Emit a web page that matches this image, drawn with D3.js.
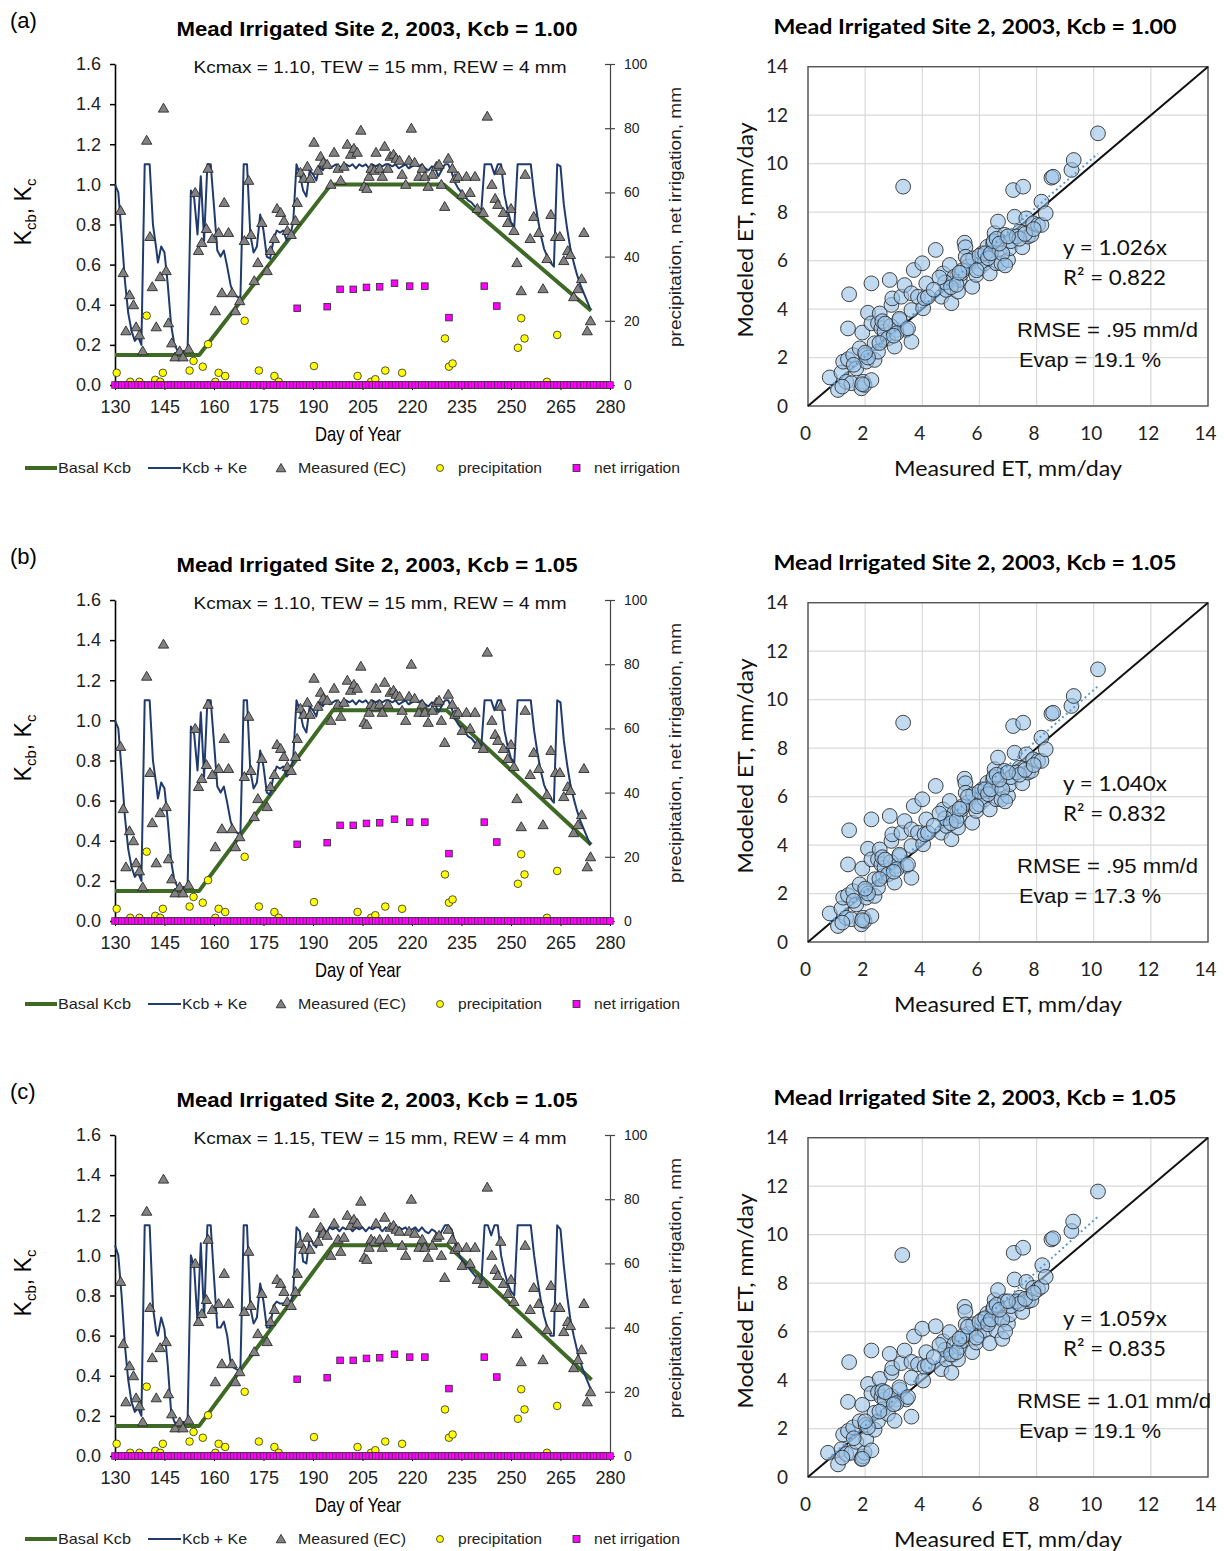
<!DOCTYPE html>
<html><head><meta charset="utf-8">
<script src="https://cdn.jsdelivr.net/npm/d3@7"></script>
<style>body{margin:0;background:#fff}svg{display:block}</style>
</head><body>
<svg id="c" width="1224" height="1551"></svg>
<script>
// ---------------- DATA ----------------
const panelLabels = ['(a)', '(b)', '(c)'];
const kcbValues = ['1.00', '1.05', '1.05'];
const kcmaxValues = ['1.10', '1.10', '1.15'];
const slopes = ['1.026', '1.040', '1.059'];
const r2Values = ['0.822', '0.832', '0.835'];
const rmseValues = ['.95', '.95', '1.01'];
const evapValues = ['19.1', '17.3', '19.1'];

const doyTicks = [130, 145, 160, 175, 190, 205, 220, 235, 250, 265, 280];
const kcTicks = [0, 0.2, 0.4, 0.6, 0.8, 1.0, 1.2, 1.4, 1.6];
const mmTicks = [0, 20, 40, 60, 80, 100];
const etTicks = [0, 2, 4, 6, 8, 10, 12, 14];

// Basal Kcb (day, Kcb)
const basalA = [[130,0.15],[155.5,0.15],[195.5,1.00],[229.5,1.00],[274.3,0.37]];
const basalB = [[130,0.15],[155.5,0.15],[196,1.05],[230.5,1.05],[274.3,0.38]];
const basalC = [[130,0.15],[155.5,0.15],[196,1.05],[230.8,1.05],[274.4,0.38]];

// Kcb + Ke (day, Kc)
const kcA = [[130,1.00],[131,0.96],[132,0.75],[133,0.52],[134,0.36],[135,0.27],[136,0.22],[137,0.24],[138,0.20],[139,1.10],[140.5,1.10],[141.5,0.80],[142.5,0.68],[143,0.61],[144,0.69],[145,0.66],[146,0.50],[147,0.30],[148,0.20],[149,0.17],[150,0.17],[151,0.17],[152,0.17],[153,0.97],[154,0.93],[155,0.75],[156,1.04],[157,0.72],[158,1.10],[159,1.10],[160,0.89],[161,0.67],[162,0.64],[163,0.67],[164,0.59],[165,0.50],[166,0.45],[167,0.44],[168,0.43],[169,1.10],[170,1.10],[171,0.75],[172,0.66],[173,0.69],[174,0.85],[175,0.77],[176,0.64],[177,0.63],[178,0.72],[179,0.77],[180,0.76],[181,0.77],[182,0.72],[183,0.74],[184,0.81],[185,1.10],[186,1.05],[187,0.97],[188,0.94],[189,1.07],[190,1.05],[191,1.02],[192,1.09],[193,1.07],[194,1.10],[195,1.08],[196,1.09],[197,1.10],[198,1.09],[199,1.08],[200,1.10],[201,1.09],[202,1.10],[203,1.08],[204,1.10],[205,1.09],[206,1.10],[207,1.08],[208,1.10],[209,1.09],[210,1.10],[211,1.09],[212,1.10],[213,1.10],[214,1.09],[215,1.10],[216,1.08],[217,1.09],[218,1.10],[219,1.08],[220,1.09],[221,1.10],[222,1.09],[223,1.10],[224,1.08],[225,1.07],[226,1.09],[227,1.08],[228,1.04],[229,1.07],[230,1.10],[231,1.10],[232,1.06],[233,1.01],[234,0.98],[235,0.96],[236,0.94],[237,0.92],[238,0.91],[239,0.89],[240,0.88],[241,0.87],[242,1.10],[243,1.10],[244,1.10],[245,1.05],[246,1.10],[247,1.10],[248,0.95],[249,0.87],[250,0.81],[251,0.79],[252,1.10],[253,1.10],[254,1.10],[255,1.10],[256,1.10],[257,0.95],[258,0.84],[259,0.75],[260,0.68],[261,0.64],[262,0.61],[263,0.59],[264,1.10],[265,1.09],[266,0.90],[267,0.78],[268,0.68],[269,0.61],[270,0.55],[271,0.50],[272,0.46],[273,0.42],[274,0.38]];
const kcB = kcA;
const kcC = [[130,1.05],[131,1.00],[132,0.80],[133,0.55],[134,0.38],[135,0.27],[136,0.22],[137,0.24],[138,0.20],[139,1.15],[140.5,1.15],[141.5,0.74],[142.5,0.62],[143,0.60],[144,0.69],[145,0.63],[146,0.45],[147,0.22],[148,0.17],[149,0.16],[150,0.17],[151,0.17],[152,0.17],[153,1.00],[154,0.94],[155,0.67],[156,1.06],[157,0.69],[158,1.15],[159,1.15],[160,0.89],[161,0.64],[162,0.64],[163,0.67],[164,0.60],[165,0.47],[166,0.44],[167,0.43],[168,0.43],[169,1.15],[170,1.15],[171,0.74],[172,0.66],[173,0.69],[174,0.86],[175,0.77],[176,0.64],[177,0.64],[178,0.75],[179,0.77],[180,0.76],[181,0.76],[182,0.77],[183,0.75],[184,0.81],[185,1.14],[186,1.12],[187,0.97],[188,0.96],[189,1.09],[190,1.06],[191,1.04],[192,1.12],[193,1.14],[194,1.11],[195,1.14],[196,1.13],[197,1.14],[198,1.12],[199,1.14],[200,1.13],[201,1.14],[202,1.12],[203,1.14],[204,1.13],[205,1.14],[206,1.12],[207,1.14],[208,1.13],[209,1.14],[210,1.14],[211,1.12],[212,1.14],[213,1.13],[214,1.14],[215,1.12],[216,1.14],[217,1.13],[218,1.14],[219,1.12],[220,1.13],[221,1.14],[222,1.12],[223,1.14],[224,1.12],[225,1.11],[226,1.13],[227,1.12],[228,1.09],[229,1.12],[230,1.15],[231,1.15],[232,1.13],[233,1.07],[234,1.01],[235,0.98],[236,0.96],[237,0.94],[238,0.92],[239,0.90],[240,0.88],[241,0.86],[242,1.15],[243,1.15],[244,1.10],[245,1.15],[246,1.15],[247,1.00],[248,0.92],[249,0.86],[250,0.82],[251,0.80],[252,1.15],[253,1.15],[254,1.15],[255,1.15],[256,1.15],[257,1.00],[258,0.88],[259,0.78],[260,0.70],[261,0.64],[262,0.60],[263,0.60],[264,1.15],[265,1.13],[266,0.95],[267,0.80],[268,0.68],[269,0.60],[270,0.53],[271,0.47],[272,0.42],[273,0.38],[274,0.34]];

// Measured Kc (EC) (day, Kc)
const measuredKc = [[131.7,0.87],[132.5,0.56],[133.3,0.27],[134.4,0.45],[135.6,0.40],[136.4,0.29],[137.4,0.25],[138.4,0.17],[139.6,1.22],[140.6,0.74],[141.3,0.49],[142.5,0.29],[143.7,0.54],[144.7,1.38],[145.5,0.57],[146.2,0.31],[147.2,0.21],[148.2,0.14],[149.6,0.17],[150.6,0.14],[152.3,0.18],[154.3,0.96],[155.3,0.67],[156.3,0.71],[157.7,0.78],[158.2,1.08],[159.5,0.73],[160.4,0.37],[161.4,0.76],[162.4,0.46],[163.1,0.91],[164.4,0.76],[165.5,0.46],[166.5,0.37],[167.8,0.42],[169.2,0.72],[170.5,1.02],[171.2,0.75],[172.2,0.52],[173.3,0.61],[174.5,0.81],[176.1,0.57],[177.1,0.67],[178.3,0.73],[179.1,0.88],[180.2,0.86],[181.2,0.82],[182.2,0.77],[183.4,0.75],[184.7,0.82],[185.2,0.91],[186.2,1.06],[187.2,1.03],[188.3,1.09],[189.1,1.03],[190.3,1.21],[191.5,1.07],[192.3,1.14],[193.1,1.11],[194.3,1.10],[195.4,1.00],[196.4,1.16],[197.6,1.08],[198.4,1.02],[199.4,1.09],[200.4,1.20],[201.4,1.15],[202.4,1.18],[203.4,1.16],[204.5,1.27],[205.5,0.99],[206.3,0.98],[207,1.04],[207.6,1.08],[208.6,1.07],[209.1,1.16],[210.2,1.08],[211,1.04],[211.7,1.19],[212.7,1.08],[213.4,1.14],[214.4,1.15],[215.2,1.13],[216.2,1.12],[217,1.05],[218.1,1.00],[219.1,1.12],[219.8,1.28],[220.8,1.11],[222.1,1.04],[223.1,1.08],[223.9,1.04],[224.9,0.99],[226.2,1.05],[227.4,1.09],[228.2,1.10],[228.9,1.00],[229.9,0.89],[231,1.13],[232.2,1.08],[233,1.03],[234,1.04],[235.2,0.95],[236.5,1.04],[237.6,0.96],[239.1,1.04],[239.8,0.88],[241.6,0.86],[242.8,1.34],[244.2,1.00],[245.2,0.93],[246,0.90],[246.9,1.07],[247.7,0.86],[249,0.81],[250,0.88],[250.9,0.77],[251.8,0.61],[253.1,0.47],[254.3,1.05],[255.8,0.73],[256.9,0.84],[258.4,0.76],[259.7,0.48],[260.9,0.63],[262.1,0.85],[263.5,0.74],[264.8,0.74],[266,0.62],[267.2,0.67],[268,0.65],[269,0.44],[270.3,0.48],[271.4,0.53],[272.1,0.76],[273.1,0.27],[274.1,0.32]];

// Precipitation (day, mm)
const precip = [[130.5,3.8],[134.6,1.0],[137.4,1.0],[139.6,21.6],[142.2,1.6],[143.7,1.0],[144.5,3.8],[152.6,4.5],[153.8,7.5],[156.6,5.7],[158.2,12.7],[160.4,1.0],[161.4,3.8],[163.4,2.8],[169.3,20.0],[173.6,4.5],[178.3,2.8],[179.6,1.0],[190.3,5.9],[203.5,2.8],[207.6,1.0],[208.9,1.8],[211.9,4.5],[217,3.8],[230,14.5],[231.2,5.7],[232.3,6.7],[252.1,11.6],[253.1,20.8],[254.1,14.5],[260.9,1.0],[264,15.6]];

// Net irrigation (day, mm); all other days are 0
const irrigation = [[185.2,23.9],[194.3,24.4],[198.2,29.8],[202.2,29.8],[206.2,30.4],[210.2,30.6],[214.7,31.7],[219.3,30.8],[223.9,30.8],[231.2,21.0],[241.9,30.8],[245.7,24.6]];
const irrigationDays = d3.range(130, 281);

// Measured vs modeled ET (mm/day)
const etA = [[0.76,1.18],[1.05,0.66],[1.17,1.38],[1.23,1.83],[1.34,1.00],[1.40,1.93],[1.40,3.20],[1.44,4.61],[1.52,0.94],[1.58,2.10],[1.69,1.55],[1.81,2.38],[1.87,0.73],[1.93,1.00],[1.90,3.03],[1.98,0.87],[2.02,2.10],[2.04,1.83],[2.22,1.07],[2.22,5.06],[2.10,3.85],[2.22,3.41],[2.33,1.90],[2.33,2.59],[2.45,2.24],[2.45,3.41],[2.51,3.82],[2.57,3.20],[2.63,2.72],[2.68,3.07],[2.80,2.79],[2.86,5.20],[2.92,4.17],[2.95,4.44],[3.03,2.45],[3.09,3.14],[3.21,3.55],[3.27,4.51],[3.33,9.05],[3.38,4.99],[3.44,3.14],[3.62,2.65],[3.62,3.96],[3.62,4.65],[3.70,5.61],[3.85,4.51],[4.00,5.89],[4.03,4.03],[4.08,4.44],[4.14,5.06],[4.47,6.44],[4.67,4.51],[4.73,5.47],[4.84,4.79],[4.96,5.82],[5.02,4.24],[5.08,5.06],[5.13,5.34],[5.25,4.72],[5.31,5.20],[5.37,5.47],[5.48,6.74],[5.51,6.55],[5.52,6.16],[5.60,5.75],[5.75,4.92],[5.78,6.09],[5.89,5.41],[5.99,5.68],[6.10,6.30],[6.18,5.89],[6.28,6.57],[6.34,6.23],[6.36,5.47],[6.48,6.71],[6.53,7.13],[6.59,5.89],[6.65,7.61],[6.71,6.44],[6.77,5.89],[6.88,7.06],[7.00,6.02],[7.06,6.51],[7.23,7.81],[7.18,8.91],[7.29,6.99],[7.41,7.19],[7.50,6.55],[7.53,9.05],[7.64,7.74],[7.70,6.99],[7.82,7.06],[7.88,7.54],[8.05,7.47],[8.17,8.43],[8.17,7.47],[8.32,7.95],[8.52,9.42],[8.58,9.46],[9.22,9.74],[9.30,10.15],[10.15,11.25],[2.10,2.00],[1.60,1.70],[2.60,3.50],[2.90,3.30],[3.10,3.00],[3.20,3.60],[3.50,3.20],[2.50,2.60],[4.20,4.50],[4.80,5.10],[5.00,4.90],[5.20,5.00],[5.40,5.60],[5.60,6.00],[5.90,5.60],[6.00,6.20],[6.20,6.30],[6.30,6.10],[6.40,6.30],[6.50,6.80],[6.60,6.90],[6.80,6.30],[6.90,5.80],[7.10,6.80],[7.30,7.00],[7.40,6.90],[7.60,7.10],[7.90,7.30],[5.30,5.50],[4.60,5.30],[1.20,0.80],[1.90,0.90],[2.00,2.20],[3.00,2.90],[2.70,3.40],[6.70,6.70],[7.00,7.00],[4.40,4.80]];
const etB = etA;
const etC = [[0.70,1.00],[1.05,0.52],[1.17,1.15],[1.23,1.75],[1.34,0.95],[1.40,1.90],[1.40,3.10],[1.44,4.74],[1.52,1.00],[1.58,2.05],[1.69,1.45],[1.81,2.30],[1.87,0.75],[1.93,0.85],[1.90,2.98],[1.98,1.00],[2.02,2.15],[2.04,1.55],[2.22,1.10],[2.22,5.22],[2.10,3.84],[2.22,3.45],[2.33,1.95],[2.33,2.65],[2.45,2.30],[2.45,3.50],[2.51,4.05],[2.57,3.30],[2.63,2.80],[2.68,3.20],[2.80,2.60],[2.86,5.08],[2.92,4.30],[2.95,4.50],[3.03,2.32],[3.09,3.20],[3.21,3.60],[3.27,4.70],[3.30,9.16],[3.38,5.22],[3.44,3.20],[3.62,2.49],[3.62,4.10],[3.62,4.75],[3.71,5.80],[3.85,4.65],[4.00,6.12],[4.03,3.98],[4.08,4.55],[4.14,5.15],[4.47,6.22],[4.67,4.45],[4.73,5.60],[4.84,4.85],[4.96,5.98],[5.02,4.30],[5.08,5.05],[5.13,5.50],[5.25,4.85],[5.31,5.35],[5.37,5.60],[5.48,7.02],[5.51,6.81],[5.52,6.30],[5.60,5.90],[5.75,5.15],[5.78,6.30],[5.89,5.55],[5.99,5.85],[6.10,6.50],[6.18,6.05],[6.28,6.75],[6.34,6.40],[6.36,5.52],[6.48,6.90],[6.53,7.30],[6.59,6.05],[6.65,7.71],[6.71,6.60],[6.80,5.70],[6.88,7.25],[7.00,6.33],[7.06,6.70],[7.23,8.15],[7.20,9.25],[7.29,7.20],[7.41,7.40],[7.50,6.81],[7.53,9.46],[7.64,8.05],[7.70,7.25],[7.82,7.30],[7.88,7.80],[8.05,7.75],[8.20,8.74],[8.17,7.85],[8.32,8.26],[8.52,9.80],[8.58,9.85],[9.22,10.15],[9.28,10.54],[10.15,11.78],[2.10,2.05],[1.60,1.60],[2.60,3.55],[2.90,3.35],[3.10,3.05],[3.20,3.70],[3.50,3.30],[2.50,2.70],[4.20,4.60],[4.80,5.25],[5.00,5.05],[5.20,5.15],[5.40,5.80],[5.60,6.20],[5.90,5.75],[6.00,6.40],[6.20,6.55],[6.30,6.30],[6.40,6.50],[6.50,7.00],[6.60,7.10],[6.80,6.50],[6.90,6.00],[7.10,7.05],[7.30,7.25],[7.40,7.15],[7.60,7.35],[7.90,7.60],[5.30,5.70],[4.60,5.45],[1.20,0.80],[1.90,0.75],[2.00,2.30],[3.00,3.00],[2.70,3.50],[6.70,6.90],[7.00,7.25],[4.40,4.95]];

const basalSets = [basalA, basalB, basalC];
const kcSets = [kcA, kcB, kcC];
const etSets = [etA, etB, etC];

// ---------------- DRAW ----------------
const svg = d3.select('#c');
const ARIAL = "'Liberation Sans', Arial, sans-serif";
const NARROW = "'Liberation Sans Narrow', 'Liberation Sans', Arial, sans-serif";
const CALIBRI = "Lato, 'Open Sans', sans-serif";
const offsets = [0, 536, 1071];
const GREEN = '#3f6a25', BLUE = '#1f3b6f';

function txt(g, x, y, s, opt) {
  const t = g.append('text').attr('x', x).attr('y', y).text(s)
    .attr('font-family', opt.ff || ARIAL).attr('font-size', opt.fs || 14)
    .attr('fill', opt.fill || '#000');
  if (opt.fw) t.attr('font-weight', opt.fw);
  if (opt.anchor) t.attr('text-anchor', opt.anchor);
  if (opt.len) t.attr('textLength', opt.len).attr('lengthAdjust', 'spacingAndGlyphs');
  return t;
}

function triangle(g, cx, cy, size) {
  g.append('path').attr('d', d3.symbol(d3.symbolTriangle, size)())
    .attr('transform', `translate(${cx},${cy})`)
    .attr('fill', '#828282').attr('stroke', '#2a2a2a').attr('stroke-width', 0.9);
}

panelLabels.forEach((lab, i) => {
  const oy = offsets[i];
  const g = svg.append('g').attr('transform', `translate(0,${oy})`);

  // ---------- time series chart ----------
  const x = d3.scaleLinear().domain([130, 280]).range([115, 610]);
  const y = d3.scaleLinear().domain([0, 1.6]).range([385, 64]);
  const y2 = d3.scaleLinear().domain([0, 100]).range([385, 64]);

  txt(g, 10, 28, lab, {fs: 22});
  txt(g, 377, 36, `Mead Irrigated Site 2, 2003, Kcb = ${kcbValues[i]}`, {fs: 20, fw: 'bold', anchor: 'middle', len: 401});
  txt(g, 380, 73, `Kcmax = ${kcmaxValues[i]}, TEW = 15 mm, REW = 4 mm`, {fs: 17, anchor: 'middle', len: 373, fill: '#111'});

  // axes
  const ax = g.append('g').attr('transform', 'translate(115,0)')
    .call(d3.axisLeft(y).tickValues(kcTicks).tickFormat(d3.format('.1f')).tickSize(5).tickSizeOuter(0).tickPadding(9));
  ax.selectAll('text').attr('font-family', ARIAL).attr('font-size', 18).attr('fill', '#222');
  ax.select('.domain').attr('stroke', '#000').attr('stroke-width', 1.6);
  ax.selectAll('.tick line').attr('stroke', '#000').attr('stroke-width', 1.5);

  const ar = g.append('g').attr('transform', 'translate(610,0)')
    .call(d3.axisRight(y2).tickValues(mmTicks).tickSize(5).tickSizeOuter(0).tickPadding(9));
  ar.selectAll('text').attr('font-family', ARIAL).attr('font-size', 14).attr('fill', '#222');
  ar.select('.domain').attr('stroke', '#444').attr('stroke-width', 1.2);
  ar.selectAll('.tick line').attr('x1', -5).attr('stroke', '#444').attr('stroke-width', 1.2);

  const ab = g.append('g').attr('transform', 'translate(0,385)')
    .call(d3.axisBottom(x).tickValues(doyTicks).tickFormat(d3.format('d')).tickSize(5).tickSizeOuter(0).tickPadding(10));
  ab.selectAll('text').attr('font-family', NARROW).attr('font-size', 18).attr('fill', '#222');
  ab.select('.domain').attr('stroke', '#000').attr('stroke-width', 1.5);
  ab.selectAll('.tick line').attr('stroke', '#000');

  txt(g, 358, 441, 'Day of Year', {ff: NARROW, fs: 21, anchor: 'middle', len: 86});

  // y label Kcb, Kc
  const yl = g.append('text').attr('transform', 'translate(31,212) rotate(-90)')
    .attr('text-anchor', 'middle').attr('font-family', ARIAL).attr('font-size', 23).attr('fill', '#000');
  yl.append('tspan').text('K');
  yl.append('tspan').text('cb').attr('font-size', 15).attr('dy', 5);
  yl.append('tspan').text(', K').attr('dy', -5);
  yl.append('tspan').text('c').attr('font-size', 15).attr('dy', 5);

  g.append('text').attr('transform', 'translate(681,217) rotate(-90)')
    .attr('text-anchor', 'middle').attr('font-family', ARIAL).attr('font-size', 16).attr('fill', '#222')
    .attr('textLength', 260).attr('lengthAdjust', 'spacingAndGlyphs')
    .text('precipitation, net irrigation, mm');

  // lines
  const line = d3.line().x(d => x(d[0])).y(d => y(d[1]));
  g.append('path').datum(basalSets[i]).attr('d', line).attr('fill', 'none')
    .attr('stroke', GREEN).attr('stroke-width', 4).attr('stroke-linejoin', 'round');
  g.append('path').datum(kcSets[i]).attr('d', line).attr('fill', 'none')
    .attr('stroke', BLUE).attr('stroke-width', 2).attr('stroke-linejoin', 'round');

  // measured triangles
  measuredKc.forEach(d => triangle(g, x(d[0]), y(d[1]) + 1, 46));

  // precipitation circles
  g.selectAll('circle.pr').data(precip).join('circle').attr('class', 'pr')
    .attr('cx', d => x(d[0])).attr('cy', d => y2(d[1])).attr('r', 3.8)
    .attr('fill', '#ffff00').attr('stroke', '#2a2a2a').attr('stroke-width', 0.8);

  // net irrigation squares (zero row + events)
  const sq = 6.6;
  g.selectAll('rect.z').data(irrigationDays).join('rect').attr('class', 'z')
    .attr('x', d => x(d) - sq / 2).attr('y', y2(0) - sq / 2).attr('width', sq).attr('height', sq)
    .attr('fill', '#ff00ff').attr('stroke', '#303030').attr('stroke-width', 0.7);
  g.selectAll('rect.ir').data(irrigation).join('rect').attr('class', 'ir')
    .attr('x', d => x(d[0]) - sq / 2).attr('y', d => y2(d[1]) - sq / 2).attr('width', sq).attr('height', sq)
    .attr('fill', '#ff00ff').attr('stroke', '#2a2a2a').attr('stroke-width', 0.8);

  // legend
  const ly = 468;
  g.append('line').attr('x1', 25).attr('x2', 57).attr('y1', ly).attr('y2', ly).attr('stroke', GREEN).attr('stroke-width', 4);
  txt(g, 58, ly + 5, 'Basal Kcb', {ff: NARROW, fs: 15, len: 73, fill: '#222'});
  g.append('line').attr('x1', 148).attr('x2', 181).attr('y1', ly).attr('y2', ly).attr('stroke', BLUE).attr('stroke-width', 2);
  txt(g, 182, ly + 5, 'Kcb + Ke', {ff: NARROW, fs: 15, len: 65, fill: '#222'});
  triangle(g, 281, ly + 1, 40);
  txt(g, 298, ly + 5, 'Measured (EC)', {ff: NARROW, fs: 15, len: 108, fill: '#222'});
  g.append('circle').attr('cx', 440).attr('cy', ly).attr('r', 3.5).attr('fill', '#ffff00').attr('stroke', '#2a2a2a').attr('stroke-width', 0.8);
  txt(g, 458, ly + 5, 'precipitation', {ff: NARROW, fs: 15, len: 84, fill: '#222'});
  g.append('rect').attr('x', 573).attr('y', ly - 3.5).attr('width', 7).attr('height', 7).attr('fill', '#ff00ff').attr('stroke', '#2a2a2a').attr('stroke-width', 0.8);
  txt(g, 594, ly + 5, 'net irrigation', {ff: NARROW, fs: 15, len: 86, fill: '#222'});

  // ---------- scatter chart ----------
  const sx = d3.scaleLinear().domain([0, 14]).range([808, 1208]);
  const sy = d3.scaleLinear().domain([0, 14]).range([406, 66.7]);

  txt(g, 975, 34, `Mead Irrigated  Site 2, 2003, Kcb = ${kcbValues[i]}`, {ff: CALIBRI, fs: 20, fw: 'bold', anchor: 'middle', len: 403});

  // grid
  const grid = g.append('g');
  etTicks.forEach(t => {
    grid.append('line').attr('x1', sx(t)).attr('x2', sx(t)).attr('y1', sy(0)).attr('y2', sy(14)).attr('stroke', '#d9d9d9').attr('stroke-width', 1.2);
    grid.append('line').attr('x1', sx(0)).attr('x2', sx(14)).attr('y1', sy(t)).attr('y2', sy(t)).attr('stroke', '#d9d9d9').attr('stroke-width', 1.2);
  });
  g.append('rect').attr('x', sx(0)).attr('y', sy(14)).attr('width', sx(14) - sx(0)).attr('height', sy(0) - sy(14))
    .attr('fill', 'none').attr('stroke', '#555').attr('stroke-width', 1.4);

  // tick labels via axes (no tick lines)
  const sxa = g.append('g').attr('transform', `translate(-3,${sy(0)})`)
    .call(d3.axisBottom(sx).tickValues(etTicks).tickSize(0).tickPadding(21));
  sxa.select('.domain').remove();
  sxa.selectAll('text').attr('font-family', CALIBRI).attr('font-size', 19).attr('fill', '#222');
  const sya = g.append('g').attr('transform', `translate(${sx(0)},0)`)
    .call(d3.axisLeft(sy).tickValues(etTicks).tickSize(0).tickPadding(20));
  sya.select('.domain').remove();
  sya.selectAll('text').attr('font-family', CALIBRI).attr('font-size', 19).attr('fill', '#222');

  txt(g, 1008, 476, 'Measured ET, mm/day', {ff: CALIBRI, fs: 22, anchor: 'middle', len: 228, fill: '#111'});
  g.append('text').attr('transform', 'translate(753,230) rotate(-90)').attr('text-anchor', 'middle')
    .attr('font-family', CALIBRI).attr('font-size', 22).attr('fill', '#111')
    .attr('textLength', 215).attr('lengthAdjust', 'spacingAndGlyphs').text('Modeled ET, mm/day');

  // 1:1 line
  g.append('line').attr('x1', sx(0)).attr('y1', sy(0)).attr('x2', sx(14)).attr('y2', sy(14))
    .attr('stroke', '#111').attr('stroke-width', 2);

  // points
  g.selectAll('circle.et').data(etSets[i]).join('circle').attr('class', 'et')
    .attr('cx', d => sx(d[0])).attr('cy', d => sy(d[1])).attr('r', 7.4)
    .attr('fill', '#9dc3e6').attr('fill-opacity', 0.62).attr('stroke', '#2f2f2f').attr('stroke-width', 0.9);

  // trend line y = slope*x
  const s = +slopes[i];
  const xs = d3.extent(etSets[i], d => d[0]);
  g.append('line').attr('x1', sx(xs[0])).attr('y1', sy(s * xs[0])).attr('x2', sx(xs[1])).attr('y2', sy(s * xs[1]))
    .attr('stroke', '#5b9bd5').attr('stroke-width', 2).attr('stroke-dasharray', '2,3');

  txt(g, 1063, 255, `y = ${slopes[i]}x`, {ff: CALIBRI, fs: 22, len: 104, fill: '#111'});
  txt(g, 1063, 285, `R² = ${r2Values[i]}`, {ff: CALIBRI, fs: 22, len: 103, fill: '#111'});
  txt(g, 1017, 337, `RMSE = ${rmseValues[i]} mm/d`, {fs: 21, len: i === 2 ? 194 : 181, fill: '#111'});
  txt(g, 1019, 367, `Evap = ${evapValues[i]} %`, {fs: 21, len: 142, fill: '#111'});
});
</script>
</body></html>
